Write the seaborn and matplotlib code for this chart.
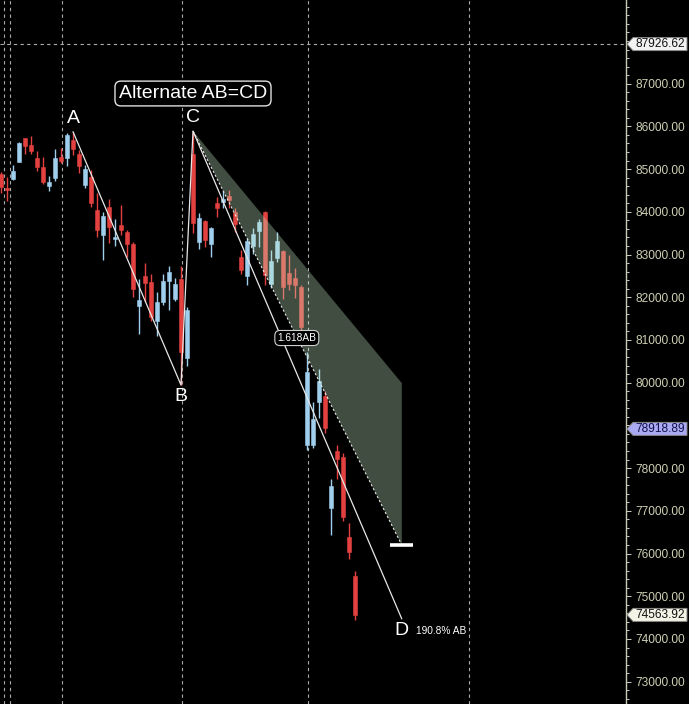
import numpy as np
import pandas as pd
import matplotlib
matplotlib.use("Agg")
import matplotlib.pyplot as plt
import seaborn as sns
from matplotlib.patches import Polygon
from matplotlib.ticker import MultipleLocator, FuncFormatter
from matplotlib.transforms import blended_transform_factory

# ---------------- data ----------------
opens = [84886, 84565, 84769, 85174, 85721, 85565, 85260, 85050, 84612, 84799,
         85284, 85267, 85682, 85354, 84628, 84808, 84043, 83446, 84106, 83371,
         83692, 83528, 83247, 81796, 82498, 82357, 81451, 81896, 82388, 81966,
         82428, 80571, 85354, 83287, 83785, 83254, 84207, 84237, 84378, 84003,
         82943, 82505, 83207, 83551, 83996, 82304, 82926, 83090, 82575, 82444,
         82233, 78542, 78542, 79548, 79677, 77074, 78401, 78261, 76388, 75475]
highs = [84940, 84808, 85096, 85628, 85730, 85775, 85424, 85284, 84839, 85471,
         85501, 85845, 85876, 85448, 85096, 84979, 84434, 84003, 84300, 83825,
         84160, 83575, 83301, 82421, 82795, 82545, 82123, 82545, 82732, 82458,
         82739, 81779, 85890, 83966, 83809, 83652, 84354, 84495, 84504, 84083,
         83106, 83394, 83629, 83832, 84020, 83106, 83535, 83106, 82990, 82678,
         82287, 80726, 79555, 80309, 79806, 77739, 78542, 78347, 76716, 75599]
lows = [84434, 84261, 84745, 85160, 85354, 85354, 84956, 84659, 84495, 84729,
        85136, 85080, 85330, 84916, 84551, 84120, 83418, 82872, 83277, 83200,
        83458, 82936, 82013, 81140, 81896, 81451, 81100, 81819, 81702, 81920,
        79946, 80391, 83512, 83130, 83184, 82950, 83886, 84083, 84083, 83521,
        82538, 82287, 83006, 83184, 82287, 82217, 82833, 81952, 82170, 81976,
        81234, 78425, 78464, 79174, 78822, 76446, 77757, 76769, 75873, 74445]
closes = [84574, 84504, 84956, 85604, 85548, 85431, 85050, 84705, 84691, 85260,
          85197, 85799, 85464, 85080, 85003, 84195, 83575, 83902, 83652, 83411,
          83575, 83247, 82201, 81936, 82327, 81545, 81882, 82374, 82584, 82304,
          80726, 81702, 83750, 83849, 83341, 83629, 84083, 84300, 84270, 83708,
          82638, 83317, 83474, 83769, 82521, 82849, 83317, 82247, 82304, 82287,
          81311, 80258, 79143, 80028, 78933, 77582, 78214, 76863, 76044, 74564]

pattern_labels = ["A", "B", "C", "D"]
pattern_idx = [12, 30, 32, 66.8]
pattern_price = [85876, 79946, 85890, 74470]
level_100 = 79990          # AB=CD level
level_1618 = 76200         # 1.618 AB level
tag_prices = [87926.62, 78918.89, 74563.92]
tag_texts = ["87926.62", "78918.89", "74563.92"]
hidden_ticks = [88000, 79000]   # tick labels covered by the price tags
grid_idx = [0.5, 1.5, 10.1, 30.1, 51.1, 78.0]
title = "Alternate AB=CD"
ext_text = "190.8% AB"
fib_text = "1.618AB"

# ---------------- style ----------------
W, H = 689, 704
sns.set_style("dark", {"axes.facecolor": "black", "figure.facecolor": "black"})
plt.rcParams["font.family"] = ["Liberation Sans", "DejaVu Sans"]

fig = plt.figure(figsize=(W / 100, H / 100), dpi=100)
fig.patch.set_facecolor("black")
AX_R = 626
ax = fig.add_axes([0, 0, AX_R / W, 1])
ax.set_facecolor("black")

YMAX, YMIN = 88959, 72478
XMIN, XMAX = -1 / 6, (AX_R - 1) / 6
ax.set_ylim(YMIN, YMAX)
ax.set_xlim(XMIN, XMAX)
ppx = (YMAX - YMIN) / H  # price per pixel

o = np.array(opens, float); h = np.array(highs, float)
l = np.array(lows, float); c = np.array(closes, float)
idx = np.arange(len(o))
red, blue = "#e2413f", "#9fcfec"
cols = np.where(c >= o, blue, red)

# grid
grid_col = "#ababab"
for g in grid_idx:
    ax.axvline(g, color=grid_col, lw=0.8, ls=(0, (3, 3)), zorder=1)
ax.axhline(tag_prices[0], color=grid_col, lw=0.8, ls=(0, (3, 3)), zorder=1)

# candles
ax.vlines(idx, l, h, colors=cols, lw=1.0, zorder=2)
body = np.maximum(np.abs(c - o), 45)
ax.bar(idx, body, bottom=np.minimum(o, c), width=0.78, color=cols,
       edgecolor=cols, lw=0.4, zorder=3)

# shaded projection zone
Ci, Cp = pattern_idx[2], pattern_price[2]
Di = pattern_idx[3]
ax.fill([Ci, Di, Di], [Cp, level_100, level_1618], color=(0.78, 0.92, 0.78),
        alpha=0.33, lw=0, zorder=4)
ax.plot([Ci, Di], [Cp, level_1618], color="#e8e8e8", lw=0.8,
        ls=(0, (2, 2)), zorder=5)
ax.plot([Di - 2.0, Di + 1.9], [level_1618, level_1618], color="white", lw=2.6,
        solid_capstyle="butt", zorder=6)

# ABCD path
df = pd.DataFrame({"idx": pattern_idx, "price": pattern_price})
sns.lineplot(data=df, x="idx", y="price", sort=False, color="#e8e8e8",
             lw=0.9, ax=ax, zorder=6)

offs = {"A": (0, 13), "B": (0, -12), "C": (0, 14), "D": (0, -12)}
for lab, xi, yp in zip(pattern_labels, pattern_idx, pattern_price):
    ax.annotate(lab, (xi, yp), xytext=offs[lab], textcoords="offset pixels",
                ha="center", va="center", color="white", fontsize=14, zorder=7)
ax.annotate(ext_text, (pattern_idx[3], pattern_price[3]), xytext=(14, -12),
            textcoords="offset pixels", ha="left", va="center", color="white",
            fontsize=7.3, zorder=7)

ax.text(49.3, 81046, fib_text, ha="center", va="center", color="white",
        fontsize=7.3, zorder=8,
        bbox=dict(boxstyle="round,pad=0.25,rounding_size=0.5", fc="black",
                  ec="#d0d0d0", lw=0.8))
ax.text(32, 86770, title, ha="center", va="center", color="white",
        fontsize=14, zorder=8,
        bbox=dict(boxstyle="round,pad=0.2,rounding_size=0.3", fc="black",
                  ec="#e0e0e0", lw=1.0))

# axes / ticks
for s in ["left", "top", "bottom"]:
    ax.spines[s].set_visible(False)
ax.spines["right"].set_visible(True)
ax.spines["right"].set_color("#c8c8b8")
ax.spines["right"].set_linewidth(1.0)
ax.set_xticks([])
ax.set_xlabel(""); ax.set_ylabel("")
ax.yaxis.tick_right()
ax.yaxis.set_major_locator(MultipleLocator(1000))
ax.yaxis.set_minor_locator(MultipleLocator(200))


def fmt(v, p):
    if any(abs(v - hv) < 1 for hv in hidden_ticks):
        return ""
    return f"{v:.2f}"


ax.yaxis.set_major_formatter(FuncFormatter(fmt))
ax.tick_params(axis="y", which="major", direction="out", length=3.6, width=0.72,
               color="#c8c8b8", labelcolor="#cfcfb4", labelsize=8.6, pad=2.9)
ax.tick_params(axis="y", which="minor", direction="out", length=2.2, width=0.72,
               color="#c8c8b8")
ax.grid(False)

# price tags
tr = blended_transform_factory(fig.transFigure, ax.transData)
tag_faces = ["#f2f2f2", "#aaaaf4", "#f4f4e6"]
tag_tc = ["#101010", "#10104a", "#101010"]
hh = 6.5 * ppx
for p, t, fc, tc in zip(tag_prices, tag_texts, tag_faces, tag_tc):
    pts = [(627 / W, p), (633 / W, p + hh), (687 / W, p + hh),
           (687 / W, p - hh), (633 / W, p - hh)]
    poly = Polygon(pts, closed=True, fc=fc, ec="#8a8a8a", lw=0.7,
                   transform=tr, zorder=20)
    fig.add_artist(poly)
    fig.text(660.5 / W, p, t, transform=tr, ha="center", va="center",
             fontsize=8.6, color=tc, zorder=21)

fig.savefig("out.png", dpi=100, facecolor="black")
